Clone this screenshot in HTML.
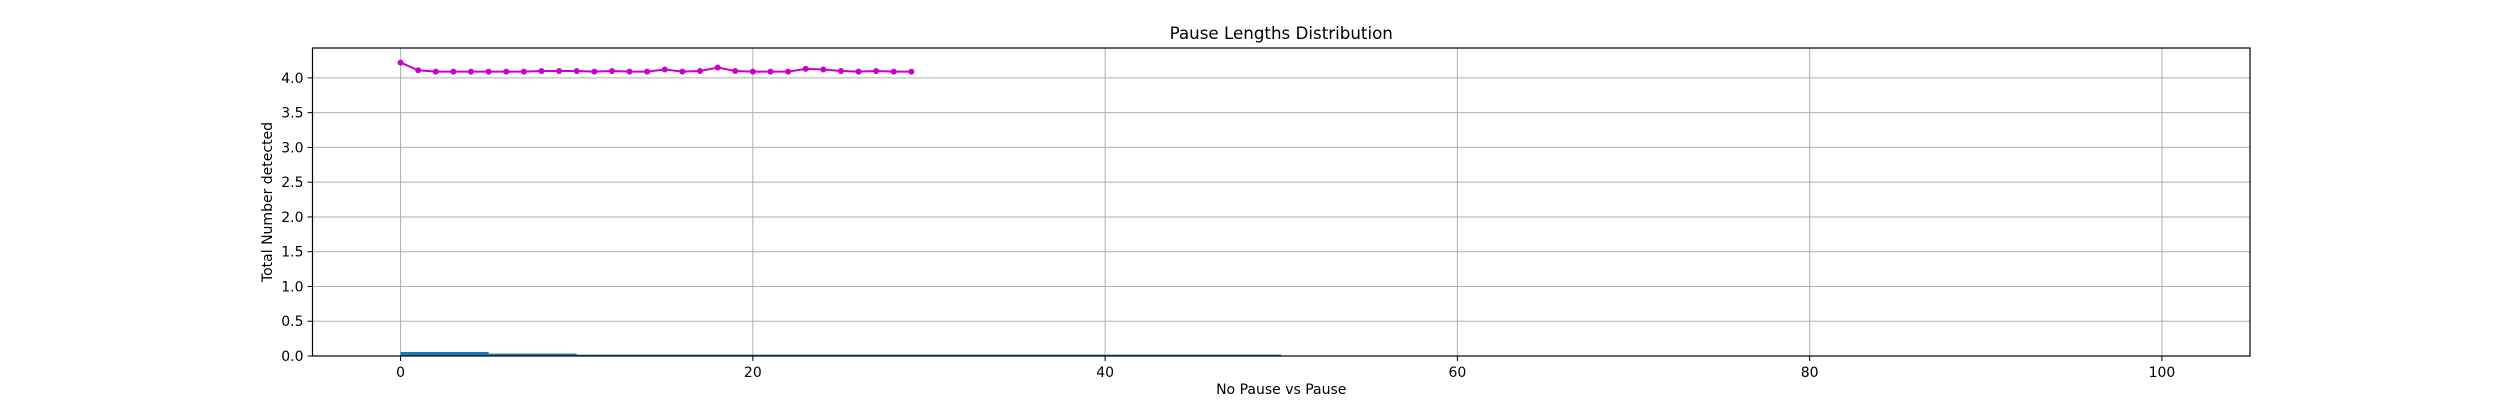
<!DOCTYPE html>
<html><head><meta charset="utf-8"><style>
body{margin:0;background:#fff}
svg{display:block;font-family:"DejaVu Sans","Liberation Sans",sans-serif}
</style></head><body>
<svg id="chart" width="2500" height="400">
<rect width="2500" height="400" fill="#fff"/>
<g id="grid"></g><g id="bars"></g><g id="line"></g><g id="axes"></g>
</svg>
<script>
const xTicks=[0,20,40,60,80,100];
const yTicks=[0,0.5,1,1.5,2,2.5,3,3.5,4];
const yTickLabels=["0.0","0.5","1.0","1.5","2.0","2.5","3.0","3.5","4.0"];
const lineX=[0,1,2,3,4,5,6,7,8,9,10,11,12,13,14,15,16,17,18,19,20,21,22,23,24,25,26,27,28,29];
const lineY=[4.22,4.11,4.09,4.09,4.09,4.09,4.09,4.09,4.10,4.10,4.10,4.09,4.10,4.09,4.09,4.12,4.09,4.10,4.15,4.10,4.09,4.09,4.09,4.13,4.12,4.10,4.09,4.10,4.09,4.09];
const binStart=[0,5,10];
const binEnd=[5,10,50];
const binValue=[0.058,0.035,0.02];
const L=312.5,R=2250,T=48,B=356,X0=-5,X1=105,Y0=0,Y1=4.43;
const sx=v=>L+(v-X0)/(X1-X0)*(R-L);
const sy=v=>B-(v-Y0)/(Y1-Y0)*(B-T);
const NS="http://www.w3.org/2000/svg";
function mk(tag,attrs,parent,text){const e=document.createElementNS(NS,tag);for(const k in attrs)e.setAttribute(k,attrs[k]);if(text!==undefined)e.textContent=text;document.getElementById(parent).appendChild(e);return e;}
xTicks.forEach(v=>{
 const g=mk('line',{x1:sx(v),x2:sx(v),y1:T,y2:B,stroke:'#b0b0b0','stroke-width':1},'grid');
 
 
 const t=mk('line',{x1:sx(v),x2:sx(v),y1:B,y2:B+5,stroke:'#000','stroke-width':1},'axes');
 
 
 const l=mk('text',{x:sx(v),y:B+21,'text-anchor':'middle','font-size':14},'axes',String(v));
 
 
});
yTicks.forEach((v,i)=>{
 const g=mk('line',{x1:L,x2:R,y1:sy(v),y2:sy(v),stroke:'#b0b0b0','stroke-width':1},'grid');
 
 
 const t=mk('line',{x1:L-5,x2:L,y1:sy(v),y2:sy(v),stroke:'#000','stroke-width':1},'axes');
 
 
 const l=mk('text',{x:L-9,y:sy(v)+5,'text-anchor':'end','font-size':14},'axes',yTickLabels[i]);
 
 
});
binStart.forEach((s,i)=>{
 const r=mk('rect',{x:sx(s),y:sy(binValue[i]),width:sx(binEnd[i])-sx(s),height:sy(0)-sy(binValue[i]),fill:'#1f77b4'},'bars');
 
 
});
const pl=mk('polyline',{points:lineX.map((x,i)=>sx(x)+','+sy(lineY[i])).join(' '),fill:'none',stroke:'#cc00cc','stroke-width':2},'line');


lineX.forEach((x,i)=>{
 const c=mk('circle',{cx:sx(x),cy:sy(lineY[i]),r:3,fill:'#cc00cc'},'line');
 
 
});
const f=mk('rect',{x:L,y:T,width:R-L,height:B-T,fill:'none',stroke:'#000','stroke-width':1.2},'axes');


const ti=mk('text',{x:(L+R)/2,y:T-9,'text-anchor':'middle','font-size':16.7},'axes','Pause Lengths Distribution');


const xl=mk('text',{x:(L+R)/2,y:B+38,'text-anchor':'middle','font-size':14},'axes','No Pause vs Pause');


const yl=mk('text',{x:0,y:0,'text-anchor':'middle','font-size':14,transform:`translate(272,${(T+B)/2}) rotate(-90)`},'axes','Total Number detected');


</script>
</body></html>
